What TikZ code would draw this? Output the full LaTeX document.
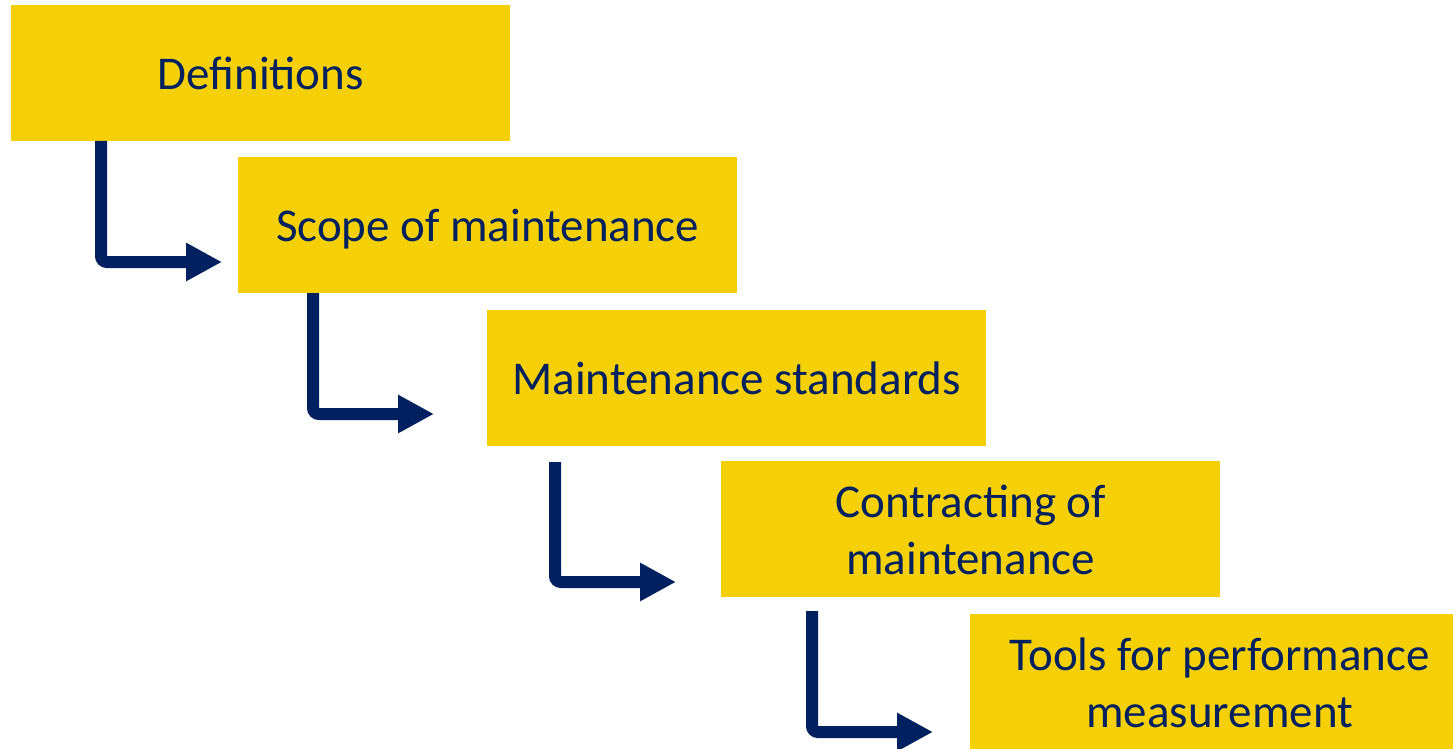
\documentclass[tikz,border=0pt]{standalone}
\usepackage{fontspec}
\setmainfont{Carlito}
\usetikzlibrary{arrows.meta}
\definecolor{boxyellow}{HTML}{F6D006}
\definecolor{navy}{HTML}{002060}
\begin{document}
\begin{tikzpicture}[x=1pt,y=-1pt,
  stepbox/.style={rectangle, fill=boxyellow, draw=none, minimum width=499pt, minimum height=136pt,
    inner sep=0pt, anchor=north west, align=center, text=navy,
    text height=33pt, text depth=0pt,
    font=\fontsize{47}{57}\selectfont},
  twoline/.style={text height=90pt, text depth=0pt},
  flow/.style={draw=navy, line width=12pt, rounded corners=6pt,
    -{Triangle[length=36pt, width=36pt]}}]
\clip (0,0) rectangle (1453,749);
\fill[white] (0,0) rectangle (1453,749);
\node[stepbox] (b1) at (11,5) {Definitions};
\node[stepbox] (b2) at (238,157) {Scope of maintenance};
\node[stepbox] (b3) at (487,310) {Maintenance standards};
\node[stepbox, twoline] (b4) at (721,461) {Contracting of\\maintenance};
\node[stepbox, twoline] (b5) at (970,614) {Tools for performance\\measurement};
\coordinate (s1) at (101,141);
\coordinate (t1) at (222,262);
\coordinate (s2) at (313,293);
\coordinate (t2) at (434,414);
\coordinate (s3) at (555,462);
\coordinate (t3) at (676,582);
\coordinate (s4) at (812,611);
\coordinate (t4) at (933,732);
\draw[flow] (s1) |- (t1);
\draw[flow] (s2) |- (t2);
\draw[flow] (s3) |- (t3);
\draw[flow] (s4) |- (t4);
\end{tikzpicture}
\end{document}
